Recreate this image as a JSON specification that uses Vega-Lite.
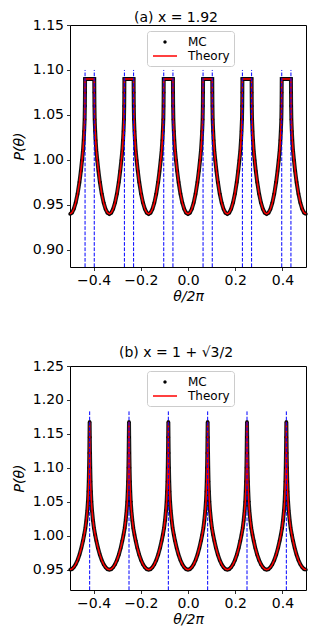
{
"$schema":"https://vega.github.io/schema/vega-lite/v6.json",
"background":"white",
"padding":{"left":11,"top":10,"right":5,"bottom":5},
"config":{
"font":"DejaVu Sans",
"view":{"stroke":"black","strokeWidth":1},
"axis":{"grid":false,"domain":false,"labelOverlap":false,"labelBound":false,"tickCount":10,"labelFont":"DejaVu Sans","labelFontSize":14,"labelColor":"black","tickColor":"black","tickSize":3.5,"tickWidth":0.8,"labelPadding":3,"titleFont":"DejaVu Sans","titleFontSize":14,"titleFontWeight":"normal","titleColor":"black","titleFontStyle":"italic"},
"title":{"font":"DejaVu Sans","fontSize":14,"fontWeight":"normal","color":"black"}
},
"datasets":{
"a":[{"t":-0.5,"p":0.94},{"t":-0.492,"p":0.9413},{"t":-0.484,"p":0.9454},{"t":-0.476,"p":0.9523},{"t":-0.468,"p":0.9622},{"t":-0.46,"p":0.9753},{"t":-0.454,"p":0.9876},{"t":-0.449,"p":0.9996},{"t":-0.445,"p":1.0103},{"t":-0.442,"p":1.022},{"t":-0.44,"p":1.032},{"t":-0.438,"p":1.045},{"t":-0.437,"p":1.06},{"t":-0.4365,"p":1.075},{"t":-0.4362,"p":1.09},{"t":-0.43,"p":1.09},{"t":-0.4234,"p":1.09},{"t":-0.4167,"p":1.09},{"t":-0.41,"p":1.09},{"t":-0.4034,"p":1.09},{"t":-0.3972,"p":1.09},{"t":-0.3969,"p":1.075},{"t":-0.3964,"p":1.06},{"t":-0.3954,"p":1.045},{"t":-0.3934,"p":1.032},{"t":-0.3914,"p":1.022},{"t":-0.3884,"p":1.0103},{"t":-0.3844,"p":0.9996},{"t":-0.3794,"p":0.9876},{"t":-0.3734,"p":0.9753},{"t":-0.3654,"p":0.9622},{"t":-0.3574,"p":0.9523},{"t":-0.3494,"p":0.9454},{"t":-0.3414,"p":0.9413},
{"t":-0.3333,"p":0.94},{"t":-0.3253,"p":0.9413},{"t":-0.3173,"p":0.9454},{"t":-0.3093,"p":0.9523},{"t":-0.3013,"p":0.9622},{"t":-0.2933,"p":0.9753},{"t":-0.2873,"p":0.9876},{"t":-0.2823,"p":0.9996},{"t":-0.2783,"p":1.0103},{"t":-0.2753,"p":1.022},{"t":-0.2733,"p":1.032},{"t":-0.2713,"p":1.045},{"t":-0.2703,"p":1.06},{"t":-0.2698,"p":1.075},{"t":-0.2695,"p":1.09},{"t":-0.2633,"p":1.09},{"t":-0.2567,"p":1.09},{"t":-0.25,"p":1.09},{"t":-0.2433,"p":1.09},{"t":-0.2367,"p":1.09},{"t":-0.2305,"p":1.09},{"t":-0.2302,"p":1.075},{"t":-0.2297,"p":1.06},{"t":-0.2287,"p":1.045},{"t":-0.2267,"p":1.032},{"t":-0.2247,"p":1.022},{"t":-0.2217,"p":1.0103},{"t":-0.2177,"p":0.9996},{"t":-0.2127,"p":0.9876},{"t":-0.2067,"p":0.9753},{"t":-0.1987,"p":0.9622},{"t":-0.1907,"p":0.9523},{"t":-0.1827,"p":0.9454},{"t":-0.1747,"p":0.9413},
{"t":-0.1667,"p":0.94},{"t":-0.1586,"p":0.9413},{"t":-0.1506,"p":0.9454},{"t":-0.1426,"p":0.9523},{"t":-0.1346,"p":0.9622},{"t":-0.1266,"p":0.9753},{"t":-0.1206,"p":0.9876},{"t":-0.1156,"p":0.9996},{"t":-0.1116,"p":1.0103},{"t":-0.1086,"p":1.022},{"t":-0.1066,"p":1.032},{"t":-0.1046,"p":1.045},{"t":-0.1036,"p":1.06},{"t":-0.1031,"p":1.075},{"t":-0.1028,"p":1.09},{"t":-0.0966,"p":1.09},{"t":-0.09,"p":1.09},{"t":-0.0833,"p":1.09},{"t":-0.0766,"p":1.09},{"t":-0.07,"p":1.09},{"t":-0.0638,"p":1.09},{"t":-0.0635,"p":1.075},{"t":-0.063,"p":1.06},{"t":-0.062,"p":1.045},{"t":-0.06,"p":1.032},{"t":-0.058,"p":1.022},{"t":-0.055,"p":1.0103},{"t":-0.051,"p":0.9996},{"t":-0.046,"p":0.9876},{"t":-0.04,"p":0.9753},{"t":-0.032,"p":0.9622},{"t":-0.024,"p":0.9523},{"t":-0.016,"p":0.9454},{"t":-0.008,"p":0.9413},
{"t":0,"p":0.94},{"t":0.008,"p":0.9413},{"t":0.016,"p":0.9454},{"t":0.024,"p":0.9523},{"t":0.032,"p":0.9622},{"t":0.04,"p":0.9753},{"t":0.046,"p":0.9876},{"t":0.051,"p":0.9996},{"t":0.055,"p":1.0103},{"t":0.058,"p":1.022},{"t":0.06,"p":1.032},{"t":0.062,"p":1.045},{"t":0.063,"p":1.06},{"t":0.0635,"p":1.075},{"t":0.0638,"p":1.09},{"t":0.07,"p":1.09},{"t":0.0766,"p":1.09},{"t":0.0833,"p":1.09},{"t":0.09,"p":1.09},{"t":0.0966,"p":1.09},{"t":0.1028,"p":1.09},{"t":0.1031,"p":1.075},{"t":0.1036,"p":1.06},{"t":0.1046,"p":1.045},{"t":0.1066,"p":1.032},{"t":0.1086,"p":1.022},{"t":0.1116,"p":1.0103},{"t":0.1156,"p":0.9996},{"t":0.1206,"p":0.9876},{"t":0.1266,"p":0.9753},{"t":0.1346,"p":0.9622},{"t":0.1426,"p":0.9523},{"t":0.1506,"p":0.9454},{"t":0.1586,"p":0.9413},
{"t":0.1667,"p":0.94},{"t":0.1747,"p":0.9413},{"t":0.1827,"p":0.9454},{"t":0.1907,"p":0.9523},{"t":0.1987,"p":0.9622},{"t":0.2067,"p":0.9753},{"t":0.2127,"p":0.9876},{"t":0.2177,"p":0.9996},{"t":0.2217,"p":1.0103},{"t":0.2247,"p":1.022},{"t":0.2267,"p":1.032},{"t":0.2287,"p":1.045},{"t":0.2297,"p":1.06},{"t":0.2302,"p":1.075},{"t":0.2305,"p":1.09},{"t":0.2367,"p":1.09},{"t":0.2433,"p":1.09},{"t":0.25,"p":1.09},{"t":0.2567,"p":1.09},{"t":0.2633,"p":1.09},{"t":0.2695,"p":1.09},{"t":0.2698,"p":1.075},{"t":0.2703,"p":1.06},{"t":0.2713,"p":1.045},{"t":0.2733,"p":1.032},{"t":0.2753,"p":1.022},{"t":0.2783,"p":1.0103},{"t":0.2823,"p":0.9996},{"t":0.2873,"p":0.9876},{"t":0.2933,"p":0.9753},{"t":0.3013,"p":0.9622},{"t":0.3093,"p":0.9523},{"t":0.3173,"p":0.9454},{"t":0.3253,"p":0.9413},
{"t":0.3333,"p":0.94},{"t":0.3414,"p":0.9413},{"t":0.3494,"p":0.9454},{"t":0.3574,"p":0.9523},{"t":0.3654,"p":0.9622},{"t":0.3734,"p":0.9753},{"t":0.3794,"p":0.9876},{"t":0.3844,"p":0.9996},{"t":0.3884,"p":1.0103},{"t":0.3914,"p":1.022},{"t":0.3934,"p":1.032},{"t":0.3954,"p":1.045},{"t":0.3964,"p":1.06},{"t":0.3969,"p":1.075},{"t":0.3972,"p":1.09},{"t":0.4034,"p":1.09},{"t":0.41,"p":1.09},{"t":0.4167,"p":1.09},{"t":0.4234,"p":1.09},{"t":0.43,"p":1.09},{"t":0.4362,"p":1.09},{"t":0.4365,"p":1.075},{"t":0.437,"p":1.06},{"t":0.438,"p":1.045},{"t":0.44,"p":1.032},{"t":0.442,"p":1.022},{"t":0.445,"p":1.0103},{"t":0.449,"p":0.9996},{"t":0.454,"p":0.9876},{"t":0.46,"p":0.9753},{"t":0.468,"p":0.9622},{"t":0.476,"p":0.9523},{"t":0.484,"p":0.9454},{"t":0.492,"p":0.9413},{"t":0.5,"p":0.94}],
"b":[{"t":-0.5,"p":0.95},{"t":-0.492,"p":0.9508},{"t":-0.484,"p":0.9534},{"t":-0.476,"p":0.9577},{"t":-0.468,"p":0.9638},{"t":-0.46,"p":0.9718},{"t":-0.452,"p":0.9818},{"t":-0.445,"p":0.9925},{"t":-0.44,"p":1.0012},{"t":-0.435,"p":1.011},{"t":-0.431,"p":1.022},{"t":-0.427,"p":1.036},{"t":-0.424,"p":1.05},{"t":-0.422,"p":1.065},{"t":-0.4205,"p":1.08},{"t":-0.4192,"p":1.1},{"t":-0.4182,"p":1.122},{"t":-0.4174,"p":1.145},{"t":-0.4167,"p":1.168},{"t":-0.416,"p":1.145},{"t":-0.4152,"p":1.122},{"t":-0.4142,"p":1.1},{"t":-0.4129,"p":1.08},{"t":-0.4114,"p":1.065},{"t":-0.4094,"p":1.05},{"t":-0.4064,"p":1.036},{"t":-0.4024,"p":1.022},{"t":-0.3984,"p":1.011},{"t":-0.3934,"p":1.0012},{"t":-0.3884,"p":0.9925},{"t":-0.3814,"p":0.9818},{"t":-0.3734,"p":0.9718},{"t":-0.3654,"p":0.9638},{"t":-0.3574,"p":0.9577},{"t":-0.3494,"p":0.9534},{"t":-0.3414,"p":0.9508},
{"t":-0.3333,"p":0.95},{"t":-0.3253,"p":0.9508},{"t":-0.3173,"p":0.9534},{"t":-0.3093,"p":0.9577},{"t":-0.3013,"p":0.9638},{"t":-0.2933,"p":0.9718},{"t":-0.2853,"p":0.9818},{"t":-0.2783,"p":0.9925},{"t":-0.2733,"p":1.0012},{"t":-0.2683,"p":1.011},{"t":-0.2643,"p":1.022},{"t":-0.2603,"p":1.036},{"t":-0.2573,"p":1.05},{"t":-0.2553,"p":1.065},{"t":-0.2538,"p":1.08},{"t":-0.2525,"p":1.1},{"t":-0.2515,"p":1.122},{"t":-0.2507,"p":1.145},{"t":-0.25,"p":1.168},{"t":-0.2493,"p":1.145},{"t":-0.2485,"p":1.122},{"t":-0.2475,"p":1.1},{"t":-0.2462,"p":1.08},{"t":-0.2447,"p":1.065},{"t":-0.2427,"p":1.05},{"t":-0.2397,"p":1.036},{"t":-0.2357,"p":1.022},{"t":-0.2317,"p":1.011},{"t":-0.2267,"p":1.0012},{"t":-0.2217,"p":0.9925},{"t":-0.2147,"p":0.9818},{"t":-0.2067,"p":0.9718},{"t":-0.1987,"p":0.9638},{"t":-0.1907,"p":0.9577},{"t":-0.1827,"p":0.9534},{"t":-0.1747,"p":0.9508},
{"t":-0.1667,"p":0.95},{"t":-0.1586,"p":0.9508},{"t":-0.1506,"p":0.9534},{"t":-0.1426,"p":0.9577},{"t":-0.1346,"p":0.9638},{"t":-0.1266,"p":0.9718},{"t":-0.1186,"p":0.9818},{"t":-0.1116,"p":0.9925},{"t":-0.1066,"p":1.0012},{"t":-0.1016,"p":1.011},{"t":-0.0976,"p":1.022},{"t":-0.0936,"p":1.036},{"t":-0.0906,"p":1.05},{"t":-0.0886,"p":1.065},{"t":-0.0871,"p":1.08},{"t":-0.0858,"p":1.1},{"t":-0.0848,"p":1.122},{"t":-0.084,"p":1.145},{"t":-0.0833,"p":1.168},{"t":-0.0826,"p":1.145},{"t":-0.0818,"p":1.122},{"t":-0.0808,"p":1.1},{"t":-0.0795,"p":1.08},{"t":-0.078,"p":1.065},{"t":-0.076,"p":1.05},{"t":-0.073,"p":1.036},{"t":-0.069,"p":1.022},{"t":-0.065,"p":1.011},{"t":-0.06,"p":1.0012},{"t":-0.055,"p":0.9925},{"t":-0.048,"p":0.9818},{"t":-0.04,"p":0.9718},{"t":-0.032,"p":0.9638},{"t":-0.024,"p":0.9577},{"t":-0.016,"p":0.9534},{"t":-0.008,"p":0.9508},
{"t":0,"p":0.95},{"t":0.008,"p":0.9508},{"t":0.016,"p":0.9534},{"t":0.024,"p":0.9577},{"t":0.032,"p":0.9638},{"t":0.04,"p":0.9718},{"t":0.048,"p":0.9818},{"t":0.055,"p":0.9925},{"t":0.06,"p":1.0012},{"t":0.065,"p":1.011},{"t":0.069,"p":1.022},{"t":0.073,"p":1.036},{"t":0.076,"p":1.05},{"t":0.078,"p":1.065},{"t":0.0795,"p":1.08},{"t":0.0808,"p":1.1},{"t":0.0818,"p":1.122},{"t":0.0826,"p":1.145},{"t":0.0833,"p":1.168},{"t":0.084,"p":1.145},{"t":0.0848,"p":1.122},{"t":0.0858,"p":1.1},{"t":0.0871,"p":1.08},{"t":0.0886,"p":1.065},{"t":0.0906,"p":1.05},{"t":0.0936,"p":1.036},{"t":0.0976,"p":1.022},{"t":0.1016,"p":1.011},{"t":0.1066,"p":1.0012},{"t":0.1116,"p":0.9925},{"t":0.1186,"p":0.9818},{"t":0.1266,"p":0.9718},{"t":0.1346,"p":0.9638},{"t":0.1426,"p":0.9577},{"t":0.1506,"p":0.9534},{"t":0.1586,"p":0.9508},
{"t":0.1667,"p":0.95},{"t":0.1747,"p":0.9508},{"t":0.1827,"p":0.9534},{"t":0.1907,"p":0.9577},{"t":0.1987,"p":0.9638},{"t":0.2067,"p":0.9718},{"t":0.2147,"p":0.9818},{"t":0.2217,"p":0.9925},{"t":0.2267,"p":1.0012},{"t":0.2317,"p":1.011},{"t":0.2357,"p":1.022},{"t":0.2397,"p":1.036},{"t":0.2427,"p":1.05},{"t":0.2447,"p":1.065},{"t":0.2462,"p":1.08},{"t":0.2475,"p":1.1},{"t":0.2485,"p":1.122},{"t":0.2493,"p":1.145},{"t":0.25,"p":1.168},{"t":0.2507,"p":1.145},{"t":0.2515,"p":1.122},{"t":0.2525,"p":1.1},{"t":0.2538,"p":1.08},{"t":0.2553,"p":1.065},{"t":0.2573,"p":1.05},{"t":0.2603,"p":1.036},{"t":0.2643,"p":1.022},{"t":0.2683,"p":1.011},{"t":0.2733,"p":1.0012},{"t":0.2783,"p":0.9925},{"t":0.2853,"p":0.9818},{"t":0.2933,"p":0.9718},{"t":0.3013,"p":0.9638},{"t":0.3093,"p":0.9577},{"t":0.3173,"p":0.9534},{"t":0.3253,"p":0.9508},
{"t":0.3333,"p":0.95},{"t":0.3414,"p":0.9508},{"t":0.3494,"p":0.9534},{"t":0.3574,"p":0.9577},{"t":0.3654,"p":0.9638},{"t":0.3734,"p":0.9718},{"t":0.3814,"p":0.9818},{"t":0.3884,"p":0.9925},{"t":0.3934,"p":1.0012},{"t":0.3984,"p":1.011},{"t":0.4024,"p":1.022},{"t":0.4064,"p":1.036},{"t":0.4094,"p":1.05},{"t":0.4114,"p":1.065},{"t":0.4129,"p":1.08},{"t":0.4142,"p":1.1},{"t":0.4152,"p":1.122},{"t":0.416,"p":1.145},{"t":0.4167,"p":1.168},{"t":0.4174,"p":1.145},{"t":0.4182,"p":1.122},{"t":0.4192,"p":1.1},{"t":0.4205,"p":1.08},{"t":0.422,"p":1.065},{"t":0.424,"p":1.05},{"t":0.427,"p":1.036},{"t":0.431,"p":1.022},{"t":0.435,"p":1.011},{"t":0.44,"p":1.0012},{"t":0.445,"p":0.9925},{"t":0.452,"p":0.9818},{"t":0.46,"p":0.9718},{"t":0.468,"p":0.9638},{"t":0.476,"p":0.9577},{"t":0.484,"p":0.9534},{"t":0.492,"p":0.9508},{"t":0.5,"p":0.95}],
"da":[{"t":-0.4362},{"t":-0.3972},{"t":-0.2695},{"t":-0.2305},{"t":-0.1028},{"t":-0.0638},{"t":0.0638},{"t":0.1028},{"t":0.2305},{"t":0.2695},{"t":0.3972},{"t":0.4362}],
"db":[{"t":-0.4167},{"t":-0.25},{"t":-0.0833},{"t":0.0833},{"t":0.25},{"t":0.4167}]
},
"spacing":99,
"bounds":"flush",
"resolve":{"scale":{"x":"independent","y":"independent","color":"independent"},"legend":{"color":"independent"}},
"vconcat":[
{"width":236,"height":242,
"title":{"text":"(a)  x = 1.92","dx":-12,"offset":-7},
"layer":[
{"data":{"name":"a"},"mark":{"type":"line","strokeWidth":4,"color":"black","opacity":0.9},
"encoding":{
"x":{"field":"t","type":"quantitative","scale":{"domain":[-0.5,0.5],"nice":false},"axis":{"values":[-0.4,-0.2,0,0.2,0.4],"tickCount":10,"format":".1f","title":"θ/2π","titlePadding":2,"labelOverlap":false}},
"y":{"field":"p","type":"quantitative","scale":{"domain":[0.881,1.15],"nice":false,"zero":false},"axis":{"values":[0.9,0.95,1,1.05,1.1,1.15],"tickCount":10,"format":".2f","title":"P(θ)","titlePadding":6,"labelOverlap":false}}}},
{"data":{"name":"a"},"mark":{"type":"point","filled":true,"size":12,"opacity":1},
"encoding":{
"x":{"field":"t","type":"quantitative"},
"y":{"field":"p","type":"quantitative"},
"color":{"datum":"MC","type":"nominal","scale":{"domain":["MC","Theory"],"range":["black","red"]},
"legend":{"orient":"none","legendX":77,"legendY":6,"title":null,
"symbolType":{"expr":"datum.value === 'MC' ? 'M-0.15,0A0.15,0.15,0,1,1,0.15,0A0.15,0.15,0,1,1,-0.15,0Z' : 'M-2,0H2'"},
"symbolSize":144,"symbolStrokeWidth":1.5,
"symbolFillColor":{"expr":"datum.value === 'MC' ? 'black' : 'transparent'"},
"symbolStrokeColor":{"expr":"datum.value === 'MC' ? 'black' : 'red'"},
"symbolOffset":7,"labelOffset":16,"labelFontSize":12,"labelFont":"DejaVu Sans","labelColor":"black","padding":4,"rowPadding":1,
"strokeColor":"#cccccc","fillColor":"rgba(255,255,255,0.8)","cornerRadius":3}}}},
{"data":{"name":"a"},"mark":{"type":"line","strokeWidth":1.5},
"encoding":{"x":{"field":"t","type":"quantitative"},"y":{"field":"p","type":"quantitative"},"color":{"datum":"Theory","type":"nominal"}}},
{"data":{"name":"da"},"mark":{"type":"rule","strokeDash":[3.7,1.6],"strokeWidth":1,"color":"blue"},
"encoding":{"x":{"field":"t","type":"quantitative"},"y":{"datum":0.881},"y2":{"datum":1.1}}}
]},
{"width":236,"height":224,
"title":{"text":"(b)  x = 1 + √3/2","dx":-12,"offset":-1},
"layer":[
{"data":{"name":"b"},"mark":{"type":"line","strokeWidth":4,"color":"black","opacity":0.9},
"encoding":{
"x":{"field":"t","type":"quantitative","scale":{"domain":[-0.5,0.5],"nice":false},"axis":{"values":[-0.4,-0.2,0,0.2,0.4],"tickCount":10,"format":".1f","title":"θ/2π","titlePadding":2,"labelOverlap":false}},
"y":{"field":"p","type":"quantitative","scale":{"domain":[0.92,1.25],"nice":false,"zero":false},"axis":{"values":[0.95,1,1.05,1.1,1.15,1.2,1.25],"tickCount":10,"format":".2f","title":"P(θ)","titlePadding":6,"labelOverlap":false}}}},
{"data":{"name":"b"},"mark":{"type":"point","filled":true,"size":12,"opacity":1},
"encoding":{
"x":{"field":"t","type":"quantitative"},
"y":{"field":"p","type":"quantitative"},
"color":{"datum":"MC","type":"nominal","scale":{"domain":["MC","Theory"],"range":["black","red"]},
"legend":{"orient":"none","legendX":77,"legendY":5,"title":null,
"symbolType":{"expr":"datum.value === 'MC' ? 'M-0.15,0A0.15,0.15,0,1,1,0.15,0A0.15,0.15,0,1,1,-0.15,0Z' : 'M-2,0H2'"},
"symbolSize":144,"symbolStrokeWidth":1.5,
"symbolFillColor":{"expr":"datum.value === 'MC' ? 'black' : 'transparent'"},
"symbolStrokeColor":{"expr":"datum.value === 'MC' ? 'black' : 'red'"},
"symbolOffset":7,"labelOffset":16,"labelFontSize":12,"labelFont":"DejaVu Sans","labelColor":"black","padding":4,"rowPadding":1,
"strokeColor":"#cccccc","fillColor":"rgba(255,255,255,0.8)","cornerRadius":3}}}},
{"data":{"name":"b"},"mark":{"type":"line","strokeWidth":1.5},
"encoding":{"x":{"field":"t","type":"quantitative"},"y":{"field":"p","type":"quantitative"},"color":{"datum":"Theory","type":"nominal"}}},
{"data":{"name":"db"},"mark":{"type":"rule","strokeDash":[3.7,1.6],"strokeWidth":1,"color":"blue"},
"encoding":{"x":{"field":"t","type":"quantitative"},"y":{"datum":0.92},"y2":{"datum":1.185}}}
]}
]
}
